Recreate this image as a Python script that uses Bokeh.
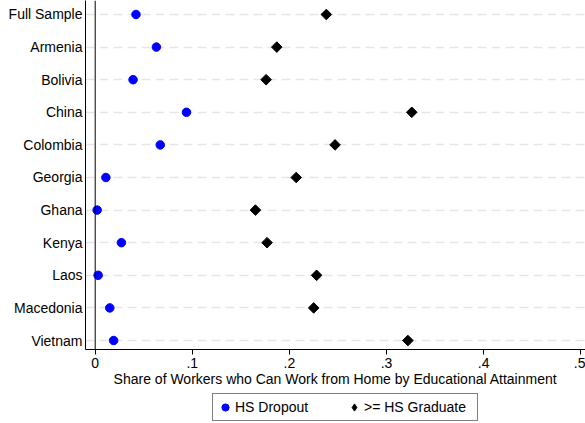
import numpy as np
from bokeh.plotting import figure
from bokeh.layouts import column
from bokeh.models import (Range1d, FixedTicker, Span, Legend, LegendItem,
                          ColumnDataSource)
from bokeh.embed import file_html
from bokeh.resources import INLINE

categories = ["Full Sample", "Armenia", "Bolivia", "China", "Colombia",
              "Georgia", "Ghana", "Kenya", "Laos", "Macedonia", "Vietnam"]
hs_dropout = [0.042, 0.063, 0.039, 0.094, 0.067, 0.011, 0.002, 0.027,
              0.003, 0.015, 0.019]
hs_graduate = [0.238, 0.187, 0.176, 0.326, 0.247, 0.207, 0.165, 0.177,
               0.228, 0.225, 0.322]
x_ticks = [0, 0.1, 0.2, 0.3, 0.4, 0.5]
x_tick_labels = ["0", ".1", ".2", ".3", ".4", ".5"]
x_title = "Share of Workers who Can Work from Home by Educational Attainment"
series_labels = ["HS Dropout", ">= HS Graduate"]

ypos = list(range(len(categories)))
src = ColumnDataSource(dict(y=ypos, drop=hs_dropout, grad=hs_graduate))

FONT = "Liberation Sans"
BLUE = "#0000ff"

p = figure(width=585, height=390, output_backend="svg", toolbar_location=None,
           x_range=Range1d(-0.00999, 0.5049),
           y_range=Range1d(len(categories) - 1 + 0.276, -0.429),
           min_border_left=85, min_border_right=0, min_border_top=0,
           min_border_bottom=41)
p.outline_line_color = None
p.background_fill_color = "white"
p.border_fill_color = "white"

# grid
p.xgrid.grid_line_color = None
p.ygrid.grid_line_color = "#e6e6e6"
p.ygrid.grid_line_dash = "9 5"
p.ygrid.grid_line_width = 1.3

# y axis
p.yaxis.ticker = FixedTicker(ticks=ypos)
p.yaxis.major_label_overrides = {i: c for i, c in enumerate(categories)}
p.yaxis.major_tick_line_color = None
p.yaxis.major_tick_out = 0
p.yaxis.major_tick_in = 0
p.yaxis.minor_tick_line_color = None
p.yaxis.major_label_standoff = 3
p.yaxis.major_label_text_font = FONT
p.yaxis.major_label_text_font_size = "14px"
p.yaxis.major_label_text_color = "black"
p.yaxis.axis_line_color = "black"
p.yaxis.axis_line_width = 1

# x axis
p.xaxis.ticker = FixedTicker(ticks=x_ticks)
p.xaxis.major_label_overrides = {t: l for t, l in zip(x_ticks, x_tick_labels)}
p.xaxis.minor_tick_line_color = None
p.xaxis.major_tick_in = 0
p.xaxis.major_tick_out = 5
p.xaxis.major_tick_line_color = "black"
p.xaxis.axis_line_color = "black"
p.xaxis.axis_line_width = 1
p.xaxis.major_label_standoff = 3
p.xaxis.major_label_text_font = FONT
p.xaxis.major_label_text_font_size = "14px"
p.xaxis.major_label_text_color = "black"
p.xaxis.axis_label = x_title
p.xaxis.axis_label_text_font = FONT
p.xaxis.axis_label_text_font_size = "14px"
p.xaxis.axis_label_text_font_style = "normal"
p.xaxis.axis_label_text_color = "black"
p.xaxis.axis_label_standoff = 0

# zero line
p.add_layout(Span(location=0, dimension="height", line_color="black",
                  line_width=1))

p.scatter("drop", "y", source=src, marker="circle", size=8.5,
          fill_color=BLUE, line_color=BLUE)
p.scatter("grad", "y", source=src, marker="square", angle=np.pi / 4,
          size=7.5, fill_color="black", line_color="black")

# legend strip (its glyph renderers use the same data, kept out of view)
lg = figure(width=585, height=33, output_backend="svg", toolbar_location=None,
            x_axis_location=None, y_axis_location=None,
            x_range=Range1d(0, 1), y_range=Range1d(100, 101),
            min_border_left=0, min_border_right=0, min_border_top=0,
            min_border_bottom=0)
lg.outline_line_color = None
lg.grid.grid_line_color = None
lg.background_fill_color = "white"
lg.border_fill_color = "white"
l1 = lg.scatter("drop", "y", source=src, marker="circle",
                fill_color=BLUE, line_color=BLUE)
l2 = lg.scatter("grad", "y", source=src, marker="diamond",
                fill_color="black", line_color="black")
legend = Legend(items=[LegendItem(label=series_labels[0], renderers=[l1]),
                       LegendItem(label=series_labels[1], renderers=[l2])],
                orientation="horizontal", location=(127, 2),
                border_line_color="black", border_line_width=1,
                label_text_font=FONT, label_text_font_size="14px",
                label_text_color="black", label_height=16, label_width=110,
                glyph_width=18, glyph_height=20, label_standoff=1,
                spacing=-34, padding=3, margin=0,
                background_fill_color="white", background_fill_alpha=1)
lg.add_layout(legend, "center")

layout = column(p, lg, spacing=0)
open("out.html", "w").write(file_html(layout, INLINE))
